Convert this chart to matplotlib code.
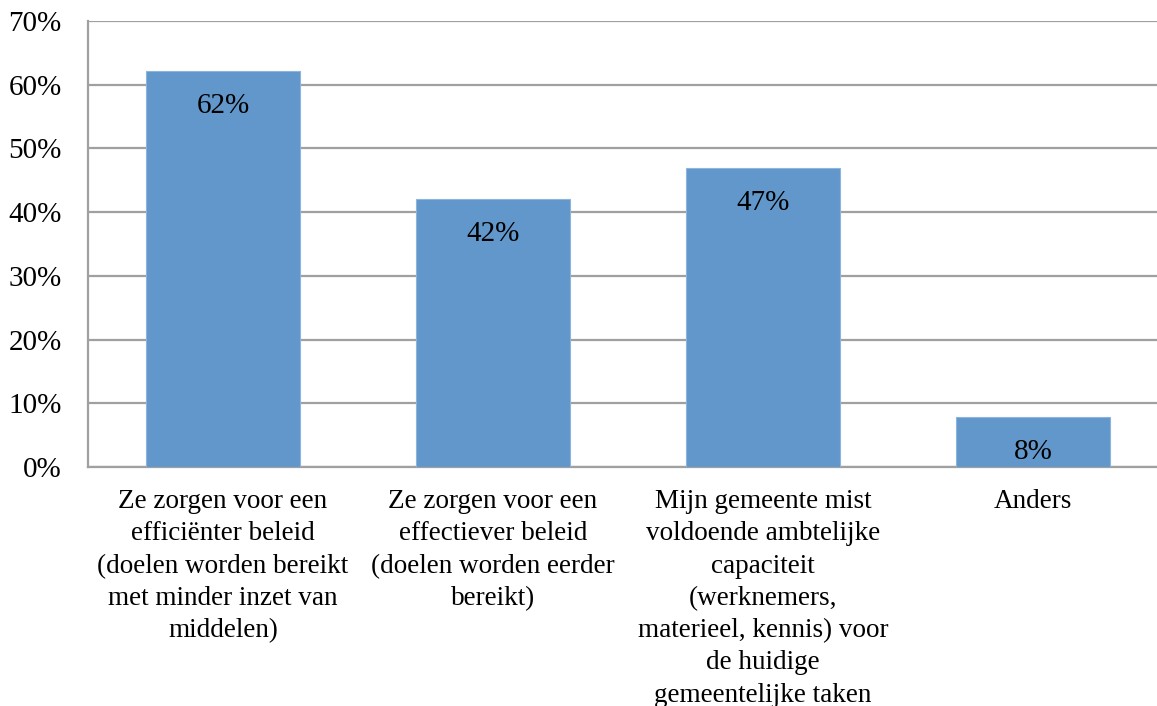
import matplotlib
matplotlib.use("Agg")
import matplotlib.pyplot as plt
from matplotlib.ticker import FuncFormatter, MultipleLocator

categories = [
    "Ze zorgen voor een\nefficiënter beleid\n(doelen worden bereikt\nmet minder inzet van\nmiddelen)",
    "Ze zorgen voor een\neffectiever beleid\n(doelen worden eerder\nbereikt)",
    "Mijn gemeente mist\nvoldoende ambtelijke\ncapaciteit\n(werknemers,\nmaterieel, kennis) voor\nde huidige\ngemeentelijke taken",
    "Anders",
]
values = [62.2, 42.1, 46.9, 7.9]
value_labels = ["62%", "42%", "47%", "8%"]

plt.rcParams['font.family'] = ['Liberation Serif', 'DejaVu Serif']

W, H = 1157, 706
fig = plt.figure(figsize=(W / 100, H / 100), dpi=100)
left, right, top, bottom = 88, 1168, 21, 467
ax = fig.add_axes([left / W, 1 - bottom / H, (right - left) / W, (bottom - top) / H])

x = range(len(categories))
bars = ax.bar(x, values, width=0.567, color='#6197CB', edgecolor='#8DB4DD', linewidth=0.8, zorder=3)
for b, lab in zip(bars, value_labels):
    ax.annotate(lab, (b.get_x() + b.get_width() / 2, b.get_height()),
                xytext=(0, -35), textcoords='offset pixels', ha='center', va='center',
                fontsize=21, color='black', zorder=4)

ax.set_xlim(-0.5, 3.5)
ax.set_ylim(0, 70)
ax.yaxis.set_major_locator(MultipleLocator(10))
ax.yaxis.set_major_formatter(FuncFormatter(lambda v, p: f"{int(round(v))}%"))
ax.grid(axis='y', color='#A0A0A0', linewidth=1.6, zorder=0)
ax.set_axisbelow(True)
for s in ['top', 'right']:
    ax.spines[s].set_visible(False)
ax.spines['left'].set_color('#A0A0A0')
ax.spines['left'].set_linewidth(1.6)
ax.spines['bottom'].set_color('#A0A0A0')
ax.spines['bottom'].set_linewidth(1.6)
ax.tick_params(axis='y', length=0, pad=19, labelsize=21)
ax.tick_params(axis='x', length=0, pad=16, labelsize=19.5)
ax.set_xticks(list(x))
ax.set_xticklabels(categories, linespacing=1.38, ha='center', va='top')
for t in ax.get_yticklabels():
    t.set_verticalalignment('center_baseline')

fig.savefig("out.png", dpi=100)
